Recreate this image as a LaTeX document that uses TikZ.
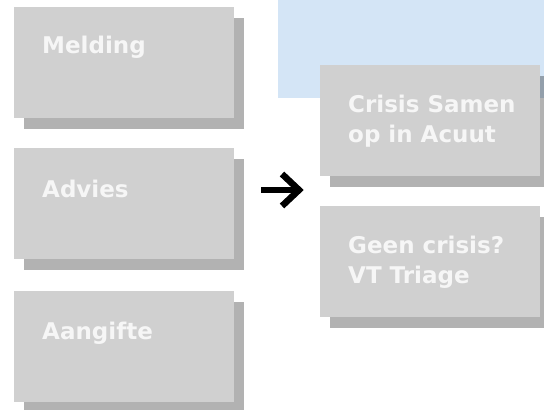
\documentclass[tikz,border=0pt]{standalone}
\usepackage{fontspec}
\newfontfamily\boxfont{DejaVu Sans}
\usetikzlibrary{shadows}
\definecolor{boxgray}{HTML}{D0D0D0}
\definecolor{paleblue}{HTML}{D4E5F6}
\definecolor{txt}{HTML}{F6F6F6}
\begin{document}
\begin{tikzpicture}[x=1pt,y=-1pt,
  card/.style={fill=boxgray, draw=none, minimum width=220pt, minimum height=111pt,
    inner sep=0pt, anchor=north west,
    drop shadow={shadow xshift=10pt, shadow yshift=-11pt, fill=black, opacity=0.3}},
  cardtext/.style={anchor=base west, inner sep=0pt,
    font=\boxfont\bfseries\fontsize{23}{30}\selectfont, text=txt, align=left},
  bigarrow/.style={line width=6.5pt, draw=black}]
\useasboundingbox (0,0) rectangle (544,410);
\fill[paleblue] (278,0) rectangle (544,98);
% left column
\node[card] (melding) at (14,7) {};
\node[card] (advies) at (14,148) {};
\node[card] (aangifte) at (14,291) {};
\node[cardtext] (tmelding) at (42,53) {Melding};
\node[cardtext] (tadvies) at (42,197) {Advies};
\node[cardtext] (taangifte) at (42,339) {Aangifte};
% right column
\node[card] (crisis) at (320,65) {};
\node[card] (geen) at (320,206) {};
\node[cardtext] (tcrisis) at (348,142) {Crisis Samen\\op in Acuut};
\node[cardtext] (tgeen) at (348,283) {Geen crisis?\\VT Triage};
% arrow glyph
\coordinate (atail) at (261,190);
\coordinate (ahead) at (299,190);
\draw[bigarrow] (atail) -- (ahead);
\draw[bigarrow, miter limit=10] (282,174) -- (ahead) -- (282,206);
\end{tikzpicture}
\end{document}
